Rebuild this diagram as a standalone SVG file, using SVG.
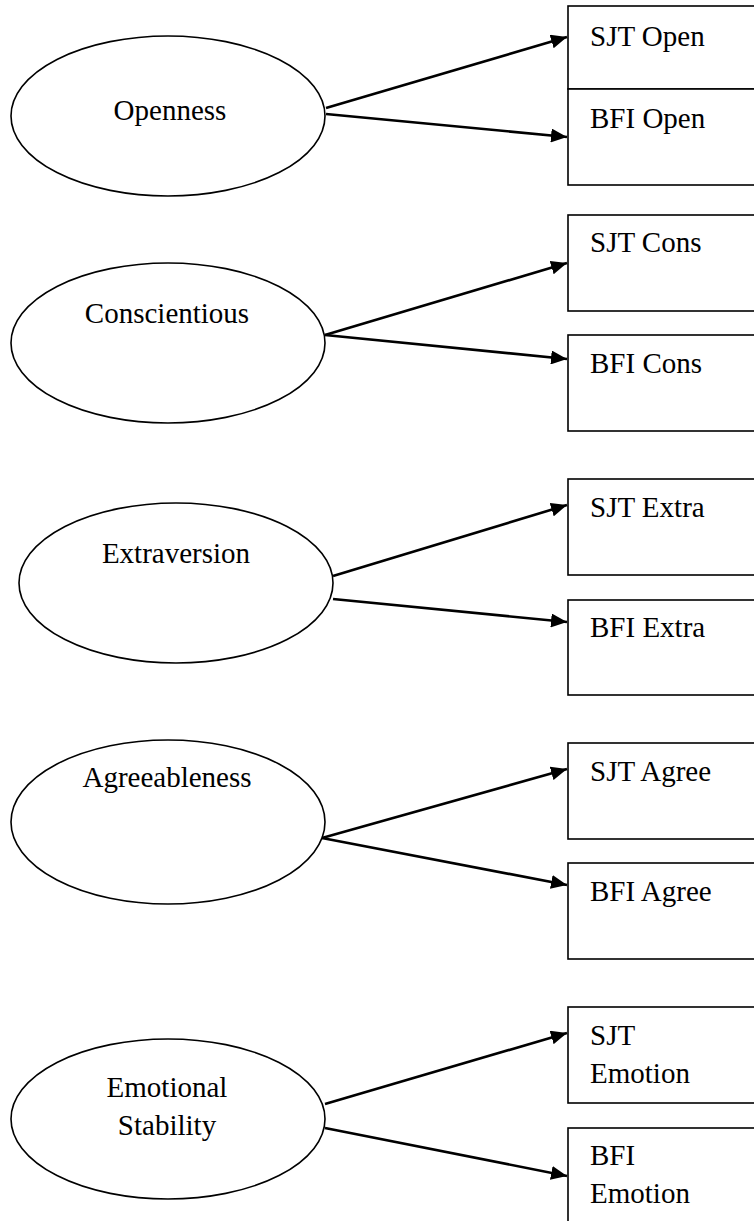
<svg xmlns="http://www.w3.org/2000/svg" width="754" height="1221" viewBox="0 0 754 1221">
<style>
.el{fill:#fff;stroke:#000;stroke-width:1.6}
.bx{fill:#fff;stroke:#000;stroke-width:1.6}
.t{font-family:"Liberation Serif","Times New Roman",serif;font-size:29px;fill:#000}
.c{text-anchor:middle}
.cn line{stroke:#000;stroke-width:2.6;marker-end:url(#ah)}
</style>
<defs>
<marker id="ah" markerUnits="userSpaceOnUse" markerWidth="17" markerHeight="14" refX="16" refY="7" orient="auto">
<path d="M0,0 L16,7 L0,14 z" fill="#000"/>
</marker>
</defs>
<rect width="754" height="1221" fill="#fff"/>

<g id="openness"><ellipse class="el" cx="168" cy="116" rx="157" ry="80"/><text class="t c" x="170" y="120">Openness</text></g>
<g id="sjt-open"><rect class="bx" x="568" y="6" width="200" height="83"/><text class="t" x="590" y="46">SJT Open</text></g>
<g id="bfi-open"><rect class="bx" x="568" y="89" width="200" height="96"/><text class="t" x="590" y="128">BFI Open</text></g>

<g id="conscientious"><ellipse class="el" cx="168" cy="343" rx="157" ry="80"/><text class="t c" x="167" y="323">Conscientious</text></g>
<g id="sjt-cons"><rect class="bx" x="568" y="215" width="200" height="96"/><text class="t" x="590" y="252">SJT Cons</text></g>
<g id="bfi-cons"><rect class="bx" x="568" y="335" width="200" height="96"/><text class="t" x="590" y="373">BFI Cons</text></g>

<g id="extraversion"><ellipse class="el" cx="176" cy="583" rx="157" ry="80"/><text class="t c" x="176" y="563">Extraversion</text></g>
<g id="sjt-extra"><rect class="bx" x="568" y="479" width="200" height="96"/><text class="t" x="590" y="517">SJT Extra</text></g>
<g id="bfi-extra"><rect class="bx" x="568" y="600" width="200" height="95"/><text class="t" x="590" y="637">BFI Extra</text></g>

<g id="agreeableness"><ellipse class="el" cx="168" cy="822" rx="157" ry="82"/><text class="t c" x="167" y="787">Agreeableness</text></g>
<g id="sjt-agree"><rect class="bx" x="568" y="743" width="200" height="96"/><text class="t" x="590" y="781">SJT Agree</text></g>
<g id="bfi-agree"><rect class="bx" x="568" y="863" width="200" height="96"/><text class="t" x="590" y="901">BFI Agree</text></g>

<g id="emotional-stability"><ellipse class="el" cx="168" cy="1119" rx="157" ry="80"/><text class="t c" x="167" y="1097">Emotional</text><text class="t c" x="167" y="1135">Stability</text></g>
<g id="sjt-emotion"><rect class="bx" x="568" y="1007" width="200" height="96"/><text class="t" x="590" y="1045">SJT</text><text class="t" x="590" y="1083">Emotion</text></g>
<g id="bfi-emotion"><rect class="bx" x="568" y="1128" width="200" height="110"/><text class="t" x="590" y="1165">BFI</text><text class="t" x="590" y="1203">Emotion</text></g>

<g id="connectors" class="cn">
<line x1="326" y1="108" x2="567" y2="37"/>
<line x1="326" y1="114" x2="567" y2="137"/>
<line x1="325" y1="335" x2="567" y2="263"/>
<line x1="325" y1="335" x2="567" y2="359"/>
<line x1="333" y1="576" x2="567" y2="505"/>
<line x1="333" y1="599" x2="567" y2="622"/>
<line x1="322" y1="838" x2="567" y2="769"/>
<line x1="322" y1="838" x2="567" y2="885"/>
<line x1="325" y1="1104" x2="567" y2="1033"/>
<line x1="325" y1="1128" x2="567" y2="1176"/>
</g>
</svg>
